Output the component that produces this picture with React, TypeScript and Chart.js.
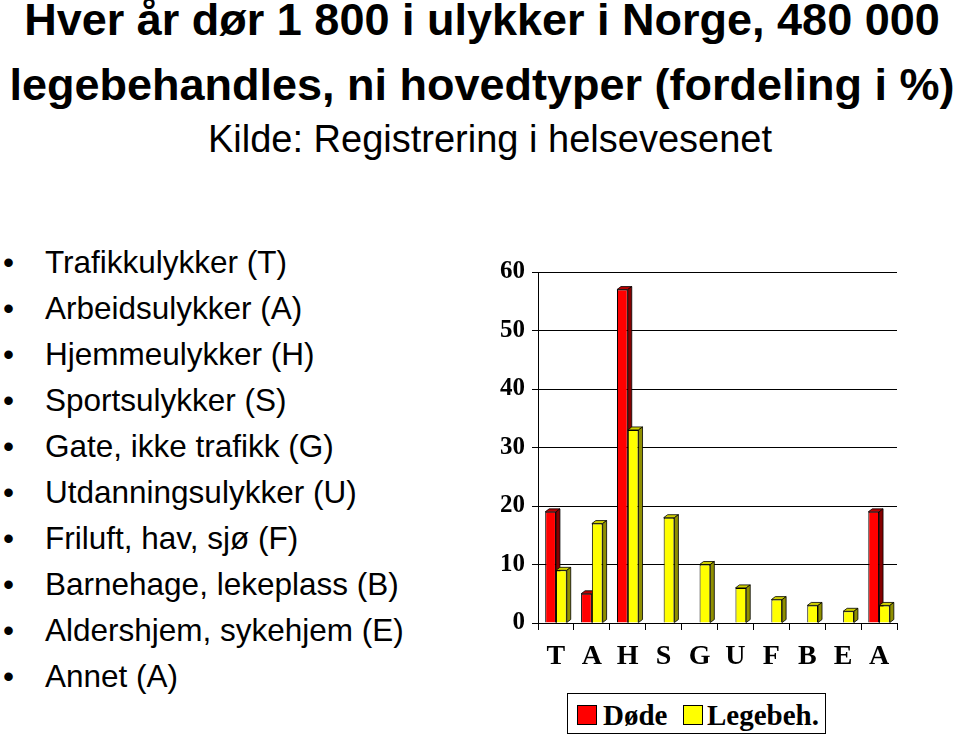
import React, { useEffect, useRef } from "react";
import { Chart, registerables } from "chart.js";

Chart.register(...registerables);

const titleLines = [
  "Hver år dør 1 800 i ulykker i Norge, 480 000",
  "legebehandles, ni hovedtyper (fordeling i %)",
];
const subtitle = "Kilde: Registrering i helsevesenet";

const bulletItems = [
  "Trafikkulykker (T)",
  "Arbeidsulykker (A)",
  "Hjemmeulykker (H)",
  "Sportsulykker (S)",
  "Gate, ikke trafikk (G)",
  "Utdanningsulykker (U)",
  "Friluft, hav, sjø (F)",
  "Barnehage, lekeplass (B)",
  "Aldershjem, sykehjem (E)",
  "Annet (A)",
];

const categories = ["T", "A", "H", "S", "G", "U", "F", "B", "E", "A"];
const dode = [19, 5, 57, 0, 0, 0, 0, 0, 0, 19];
const legebeh = [9, 17, 33, 18, 10, 6, 4, 3, 2, 3];
const yTicks = [0, 10, 20, 30, 40, 50, 60];
const seriesNames = ["Døde", "Legebeh."];

const SERIF = "'Liberation Serif', 'Times New Roman', serif";
const SANS = "'Liberation Sans', Arial, sans-serif";

const shades = [
  { front: "#ff0000", top: "#b80000", side: "#850000" },
  { front: "#ffff00", top: "#cfcf00", side: "#8f8f00" },
];

const bar3d = {
  id: "bar3d",
  beforeDatasetsDraw(chart: any) {
    const ctx = chart.ctx;
    const dx = 4;
    const dy = 3;
    chart.data.datasets.forEach((ds: any, di: number) => {
      const meta = chart.getDatasetMeta(di);
      const s = shades[di];
      meta.data.forEach((el: any, i: number) => {
        const v = ds.data[i];
        if (!v) return;
        const { x, y, base, width } = el.getProps(["x", "y", "base", "width"], true);
        const l = x - width / 2;
        const r = x + width / 2;
        ctx.save();
        ctx.lineWidth = 0.8;
        ctx.strokeStyle = "#000";
        ctx.beginPath();
        ctx.moveTo(l, y);
        ctx.lineTo(l + dx, y - dy);
        ctx.lineTo(r + dx, y - dy);
        ctx.lineTo(r, y);
        ctx.closePath();
        ctx.fillStyle = s.top;
        ctx.fill();
        ctx.stroke();
        ctx.beginPath();
        ctx.moveTo(r, y);
        ctx.lineTo(r + dx, y - dy);
        ctx.lineTo(r + dx, base - dy);
        ctx.lineTo(r, base);
        ctx.closePath();
        ctx.fillStyle = s.side;
        ctx.fill();
        ctx.stroke();
        ctx.restore();
      });
    });
  },
};

function BarChart() {
  const ref = useRef<HTMLCanvasElement | null>(null);
  useEffect(() => {
    if (!ref.current) return;
    const chart = new Chart(ref.current, {
      type: "bar",
      data: {
        labels: categories,
        datasets: [
          {
            label: seriesNames[0],
            data: dode,
            backgroundColor: shades[0].front,
            borderColor: "#000",
            borderWidth: 1,
            categoryPercentage: 0.6,
            barPercentage: 1,
          },
          {
            label: seriesNames[1],
            data: legebeh,
            backgroundColor: shades[1].front,
            borderColor: "#000",
            borderWidth: 1,
            categoryPercentage: 0.6,
            barPercentage: 1,
          },
        ],
      },
      options: {
        responsive: false,
        animation: false,
        layout: { padding: { left: 0, top: 21, right: 63, bottom: 0 } },
        plugins: {
          legend: { display: false },
          tooltip: { enabled: false },
          title: { display: false },
        },
        scales: {
          x: {
            grid: {
              display: true,
              drawOnChartArea: false,
              drawTicks: true,
              tickLength: 7,
              color: "#000",
              offset: true,
            },
            border: { display: true, color: "#000", width: 1 },
            ticks: {
              color: "#000",
              padding: 10,
              font: { family: SERIF, size: 28, weight: "bold" },
              maxRotation: 0,
              autoSkip: false,
            },
            afterFit(s: any) {
              s.height = 67;
            },
          },
          y: {
            min: 0,
            max: 60,
            afterBuildTicks(s: any) {
              s.ticks = yTicks.map((v) => ({ value: v }));
            },
            grid: { color: "#000", lineWidth: 1, tickLength: 6, drawTicks: true },
            border: { display: true, color: "#000", width: 1 },
            ticks: {
              color: "#000",
              padding: 7,
              font: { family: SERIF, size: 25, weight: "bold" },
            },
            afterFit(s: any) {
              s.width = 58;
            },
          },
        },
      },
      plugins: [bar3d],
    } as any);
    return () => chart.destroy();
  }, []);
  return (
    <canvas
      ref={ref}
      width={480}
      height={440}
      style={{ position: "absolute", left: 480, top: 250, width: 480, height: 440 }}
    />
  );
}

export default function App() {
  const legendColors = [shades[0].front, shades[1].front];
  const legendSwatchX = [577, 683];
  const legendTextX = [603, 707];
  return (
    <div
      style={{
        position: "absolute",
        left: 0,
        top: 0,
        width: 960,
        height: 739,
        background: "#fff",
        overflow: "hidden",
        color: "#000",
      }}
    >
      {titleLines.map((t, i) => (
        <div
          key={i}
          style={{
            position: "absolute",
            left: 0,
            width: 964,
            top: i === 0 ? -6 : 59,
            textAlign: "center",
            fontFamily: SANS,
            fontWeight: "bold",
            fontSize: 45,
            lineHeight: "normal",
            whiteSpace: "nowrap",
          }}
        >
          {t}
        </div>
      ))}
      <div
        style={{
          position: "absolute",
          left: 0,
          width: 980,
          top: 118,
          textAlign: "center",
          fontFamily: SANS,
          fontSize: 38,
          lineHeight: "normal",
          whiteSpace: "nowrap",
        }}
      >
        {subtitle}
      </div>
      {bulletItems.map((t, i) => (
        <div
          key={i}
          style={{
            position: "absolute",
            left: 0,
            top: 239 + i * 46,
            height: 46,
            lineHeight: "46px",
            fontFamily: SANS,
            fontSize: 31.5,
            whiteSpace: "nowrap",
          }}
        >
          <span style={{ position: "absolute", left: 3 }}>•</span>
          <span style={{ position: "absolute", left: 45 }}>{t}</span>
        </div>
      ))}
      <BarChart />
      <div
        style={{
          position: "absolute",
          left: 567,
          top: 693,
          width: 257,
          height: 39,
          border: "1px solid #000",
        }}
      />
      {seriesNames.map((n, i) => (
        <React.Fragment key={i}>
          <div
            style={{
              position: "absolute",
              left: legendSwatchX[i],
              top: 705,
              width: 18,
              height: 18,
              background: legendColors[i],
              border: "1px solid #000",
            }}
          />
          <div
            style={{
              position: "absolute",
              left: legendTextX[i],
              top: 699,
              fontFamily: SERIF,
              fontWeight: "bold",
              fontSize: 29,
              lineHeight: "32px",
              whiteSpace: "nowrap",
            }}
          >
            {n}
          </div>
        </React.Fragment>
      ))}
    </div>
  );
}
